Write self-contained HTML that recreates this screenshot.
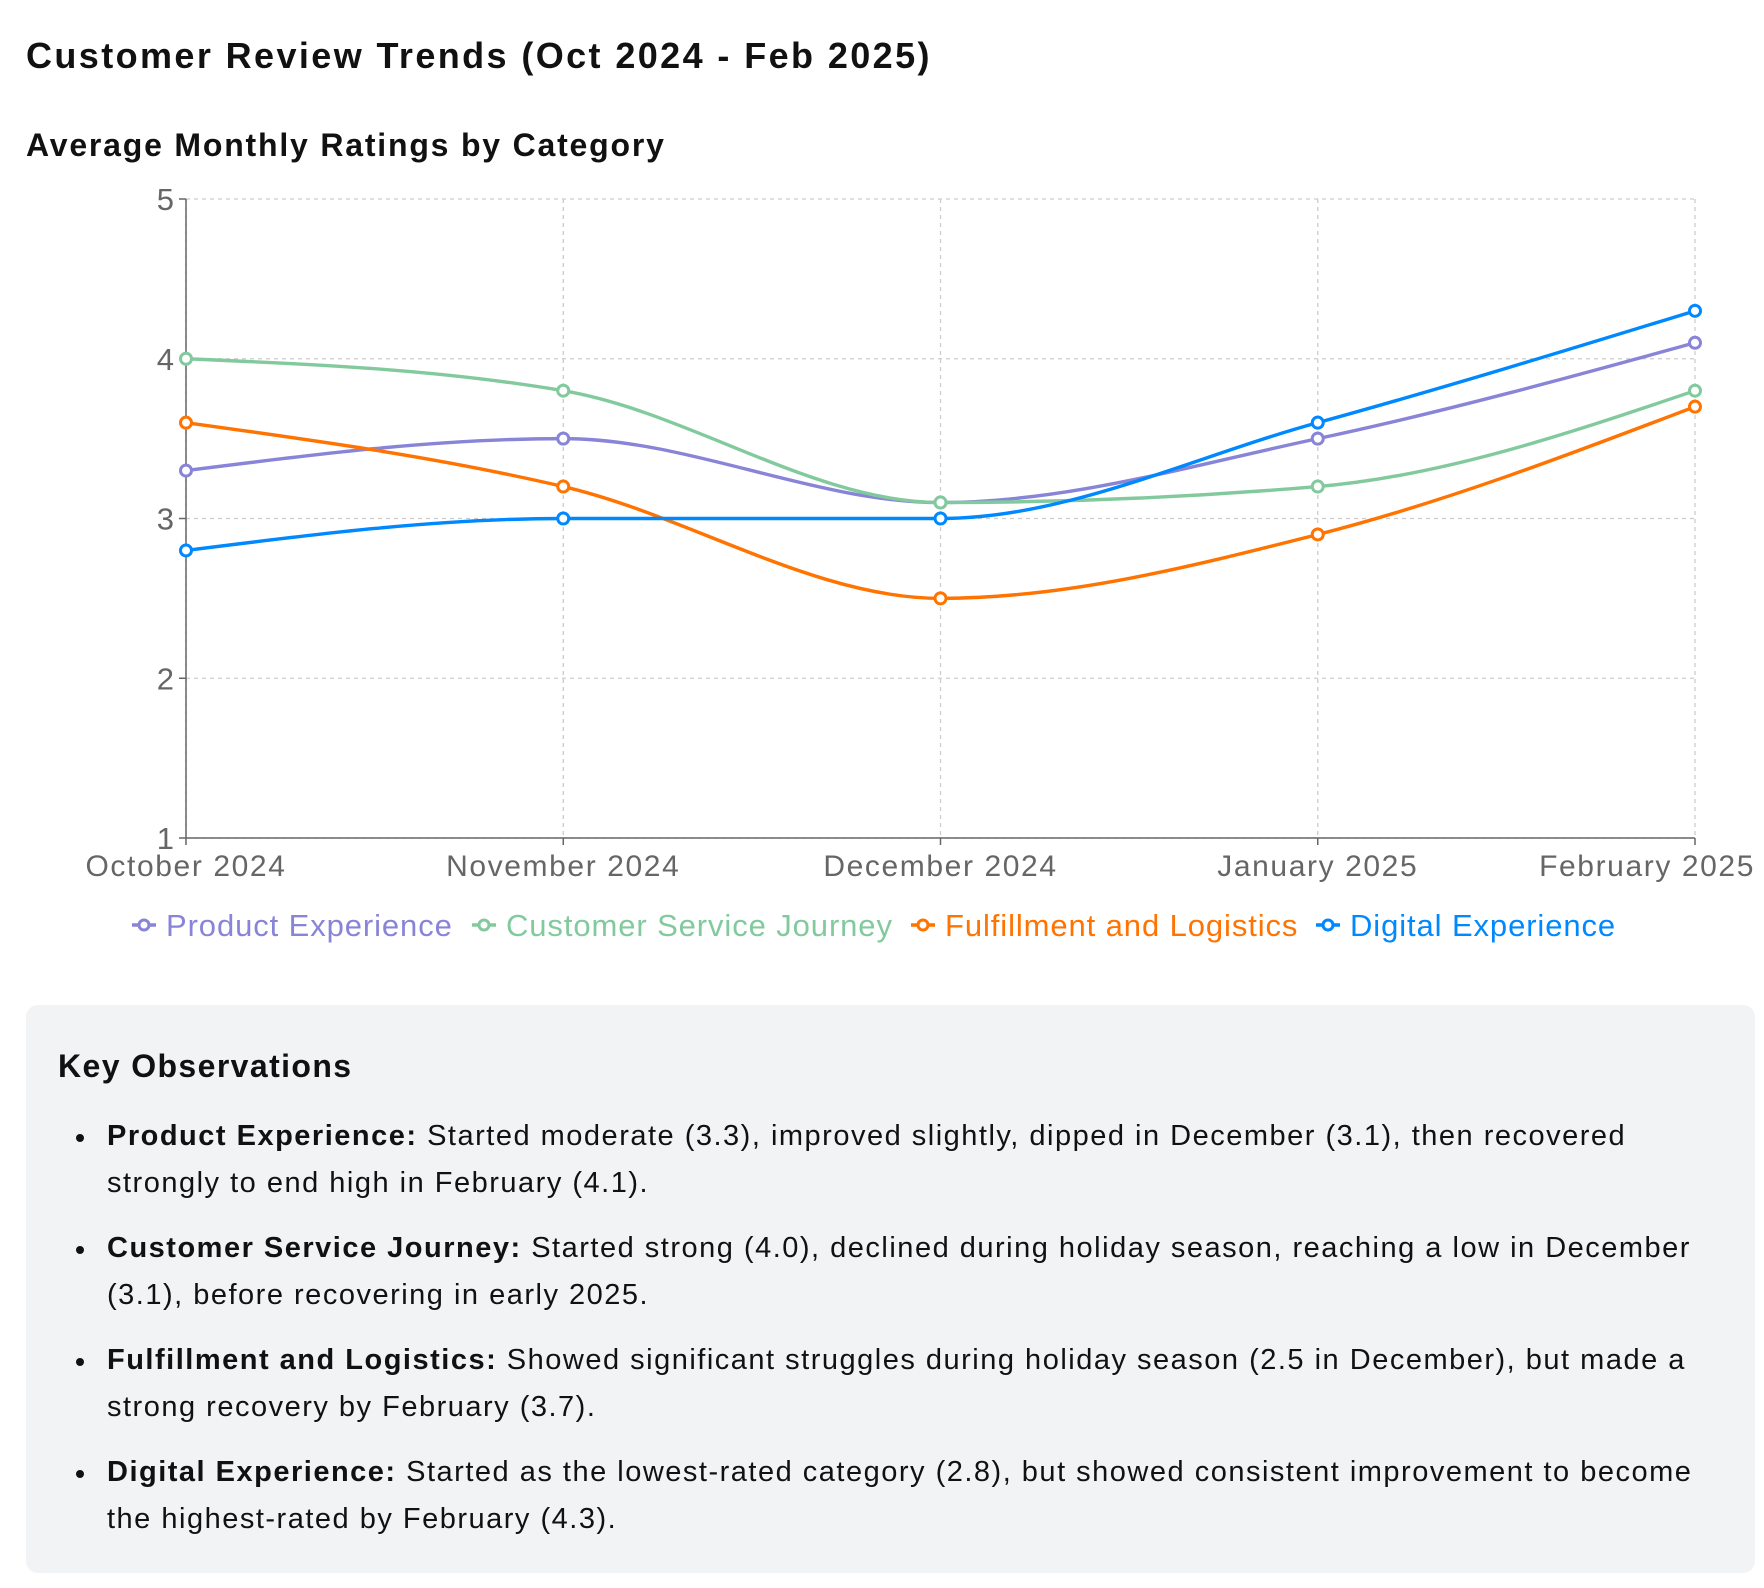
<!DOCTYPE html>
<html><head><meta charset="utf-8">
<style>
body{margin:0;width:1764px;height:1588px;background:#fff;font-family:"Liberation Sans",sans-serif;color:#111;overflow:hidden;position:relative}
h1{position:absolute;left:26px;top:35px;margin:0;font-size:36px;font-weight:bold;letter-spacing:2.4px;white-space:nowrap}
h2{position:absolute;left:26px;top:127px;margin:0;font-size:32px;font-weight:bold;letter-spacing:1.8px;white-space:nowrap}
svg{position:absolute;left:0;top:0}
.box{position:absolute;left:26px;top:1005px;width:1729px;height:568px;background:#f2f3f5;border-radius:12px}
.box h3{position:absolute;left:32px;top:43px;margin:0;font-size:32px;font-weight:bold;letter-spacing:1.4px}
.box ul{position:absolute;left:0;top:108px;margin:0;padding:0;list-style:none}
.box li{position:relative;padding-left:81px;font-size:29px;line-height:47px;white-space:nowrap;margin-bottom:18px;letter-spacing:1.5px}
.box li::before{content:"";position:absolute;left:50px;top:21px;width:8px;height:8px;border-radius:50%;background:#111}
</style></head><body>
<h1>Customer Review Trends (Oct 2024 - Feb 2025)</h1>
<h2>Average Monthly Ratings by Category</h2>
<svg id="chart" width="1764" height="980"></svg>
<div class="box">
<h3>Key Observations</h3>
<ul>
<li><b>Product Experience:</b> Started moderate (3.3), improved slightly, dipped in December (3.1), then recovered<br>strongly to end high in February (4.1).</li>
<li><b>Customer Service Journey:</b> Started strong (4.0), declined during holiday season, reaching a low in December<br>(3.1), before recovering in early 2025.</li>
<li><b>Fulfillment and Logistics:</b> Showed significant struggles during holiday season (2.5 in December), but made a<br>strong recovery by February (3.7).</li>
<li><b>Digital Experience:</b> Started as the lowest-rated category (2.8), but showed consistent improvement to become<br>the highest-rated by February (4.3).</li>
</ul></div>
<script>
const categories=["October 2024","November 2024","December 2024","January 2025","February 2025"];
const product=[3.3,3.5,3.1,3.5,4.1];
const service=[4.0,3.8,3.1,3.2,3.8];
const fulfillment=[3.6,3.2,2.5,2.9,3.7];
const digital=[2.8,3.0,3.0,3.6,4.3];
const yTicks=[1,2,3,4,5];
const seriesNames=["Product Experience","Customer Service Journey","Fulfillment and Logistics","Digital Experience"];
const seriesColors=["#8884d8","#82ca9d","#ff7300","#0088fe"];
const seriesData=[product,service,fulfillment,digital];

const NS="http://www.w3.org/2000/svg";
const svg=document.getElementById('chart');
const L=186,R=1695,T=199,B=838;
const x=i=>L+(R-L)*i/(categories.length-1);
const y=v=>B-(B-T)*(v-1)/4;
function mk(t,a,p){const e=document.createElementNS(NS,t);for(const k in a)e.setAttribute(k,a[k]);(p||svg).appendChild(e);return e;}

yTicks.forEach(v=>{
 const g=mk('line',{x1:L,x2:R,y1:y(v),y2:y(v),stroke:'#ccc','stroke-dasharray':'4 4','stroke-width':1.3});
 
 
});
categories.forEach((c,i)=>{
 const g=mk('line',{x1:x(i),x2:x(i),y1:T,y2:B,stroke:'#ccc','stroke-dasharray':'4 4','stroke-width':1.3});
 
 
});
const ya=mk('line',{x1:L,x2:L,y1:T,y2:B,stroke:'#666','stroke-width':1.5});


const xa=mk('line',{x1:L,x2:R,y1:B,y2:B,stroke:'#666','stroke-width':1.5});


yTicks.forEach(v=>{
 mk('line',{x1:L-7,x2:L,y1:y(v),y2:y(v),stroke:'#666','stroke-width':1.5});
 const t=mk('text',{x:L-12,y:y(v)+11,'text-anchor':'end','font-size':31,fill:'#666'});
 t.textContent=v;
 
 
});
categories.forEach((c,i)=>{
 mk('line',{x1:x(i),x2:x(i),y1:B,y2:B+7,stroke:'#666','stroke-width':1.5});
 const last=i===categories.length-1;
 const t=mk('text',{x:last?1755:x(i),y:B+38,'text-anchor':last?'end':'middle','font-size':30,fill:'#666','letter-spacing':1.6});
 t.textContent=c;
 
 
});
function monoPath(pts){
 const n=pts.length;const dx=[],s=[],m=[];
 for(let i=0;i<n-1;i++){dx[i]=pts[i+1][0]-pts[i][0];s[i]=(pts[i+1][1]-pts[i][1])/dx[i];}
 for(let i=1;i<n-1;i++){
  const h0=dx[i-1],h1=dx[i],s0=s[i-1],s1=s[i],p=(s0*h1+s1*h0)/(h0+h1);
  m[i]=(Math.sign(s0)+Math.sign(s1))*Math.min(Math.abs(s0),Math.abs(s1),0.5*Math.abs(p))||0;
 }
 m[0]=(3*s[0]-m[1])/2; if(Math.sign(m[0])!==Math.sign(s[0])&&s[0]!==0)m[0]=0; if(s[0]===0)m[0]=0;
 m[n-1]=(3*s[n-2]-m[n-2])/2; if(Math.sign(m[n-1])!==Math.sign(s[n-2])&&s[n-2]!==0)m[n-1]=0; if(s[n-2]===0)m[n-1]=0;
 let d='M'+pts[0][0]+','+pts[0][1];
 for(let i=0;i<n-1;i++){const h=dx[i]/3;
  d+=' C'+(pts[i][0]+h)+','+(pts[i][1]+h*m[i])+' '+(pts[i+1][0]-h)+','+(pts[i+1][1]-h*m[i+1])+' '+pts[i+1][0]+','+pts[i+1][1];}
 return d;
}
seriesData.forEach((vals,si)=>{
 const pts=vals.map((v,i)=>[x(i),y(v)]);
 const p=mk('path',{d:monoPath(pts),fill:'none',stroke:seriesColors[si],'stroke-width':3.4});
 
 
 pts.forEach(pt=>{
  const c=mk('circle',{cx:pt[0],cy:pt[1],r:5.5,fill:'#fff',stroke:seriesColors[si],'stroke-width':3});
  
  
 });
});
const legX=[132,472,911,1316];
seriesNames.forEach((nm,si)=>{
 const g=mk('g',{});
 
 
 const cy=925,lx=legX[si];
 mk('line',{x1:lx,x2:lx+24,y1:cy,y2:cy,stroke:seriesColors[si],'stroke-width':3.4},g);
 mk('circle',{cx:lx+12,cy:cy,r:5,fill:'#fff',stroke:seriesColors[si],'stroke-width':3},g);
 const t=mk('text',{x:lx+34,y:cy+11,'font-size':31,fill:seriesColors[si],'letter-spacing':0.9},g);
 t.textContent=nm;
});
</script>
</body></html>
